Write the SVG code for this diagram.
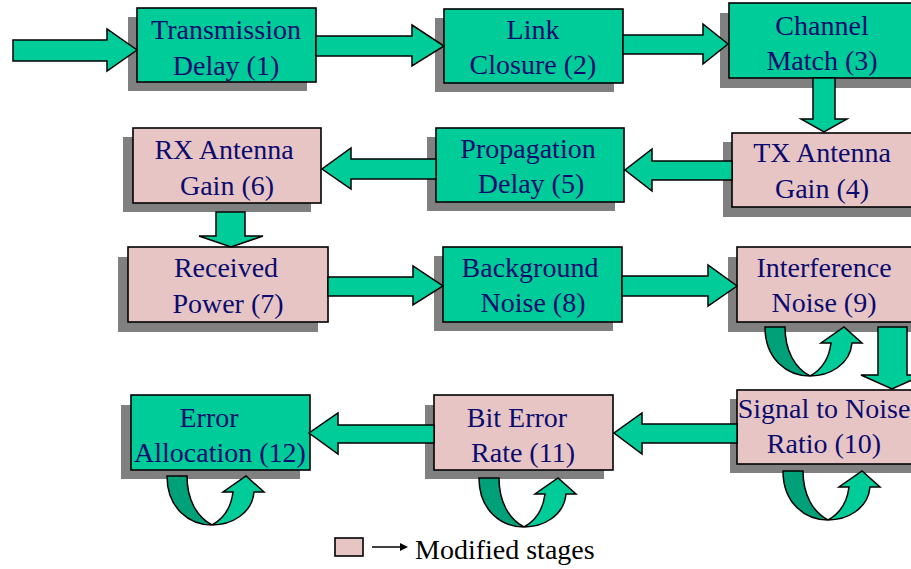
<svg xmlns="http://www.w3.org/2000/svg" xmlns:xlink="http://www.w3.org/1999/xlink" width="911" height="569" viewBox="0 0 911 569">
<style>
.sh{fill:#808080;stroke:none}
.g{fill:#00cc99;stroke:#000;stroke-width:1.6}
.p{fill:#e7c5c5;stroke:#000;stroke-width:1.6}
.t{font-family:'Liberation Serif','Tinos','DejaVu Serif',serif;font-size:28px;fill:#0b0b6e;text-anchor:middle}
.ar{fill:#00cc99;stroke:#000;stroke-width:1.5;stroke-linejoin:miter}
.dk{fill:#00a078;stroke:#000;stroke-width:1.5}
.lt{fill:#00cc99;stroke:#000;stroke-width:1.5}
.lg{font-family:'Liberation Serif','Tinos','DejaVu Serif',serif;font-size:28px;fill:#000}
</style>
<defs>
<g id="loop">
<path class="dk" d="M0,0 L20,0 C20,24 30,41 45,49 C22,49 0,32 0,0 Z"/>
<path class="lt" d="M45,49 C64,49 85,38 87,16 L97,16 L79,0 L56,16 L66,16 C64,32 56,43 45,49 Z"/>
</g>
</defs>
<rect width="911" height="569" fill="#fff"/>
<g id="node1"><rect class="sh" x="128" y="17" width="179" height="74"/><rect class="g" x="137" y="8" width="179" height="74"/><text class="t" x="226" y="39">Transmission</text><text class="t" x="226" y="75">Delay (1)</text></g>
<g id="node2"><rect class="sh" x="435" y="18" width="179" height="74"/><rect class="g" x="444" y="9" width="179" height="74"/><text class="t" x="533" y="39">Link</text><text class="t" x="533" y="74">Closure (2)</text></g>
<g id="node3"><rect class="sh" x="720" y="13" width="192" height="75"/><rect class="g" x="729" y="3" width="184" height="75"/><text class="t" x="822" y="35">Channel</text><text class="t" x="822" y="70">Match (3)</text></g>
<g id="node4"><rect class="sh" x="723" y="142" width="190" height="75"/><rect class="p" x="732" y="133" width="181" height="74"/><text class="t" x="822" y="162">TX Antenna</text><text class="t" x="822" y="198">Gain (4)</text></g>
<g id="node5"><rect class="sh" x="427" y="137" width="188" height="74"/><rect class="g" x="436" y="128" width="188" height="74"/><text class="t" x="528" y="158">Propagation</text><text class="t" x="531" y="193">Delay (5)</text></g>
<g id="node6"><rect class="sh" x="123" y="137" width="188" height="75"/><rect class="p" x="133" y="128" width="188" height="75"/><text class="t" x="224" y="159">RX Antenna</text><text class="t" x="227" y="195">Gain (6)</text></g>
<g id="node7"><rect class="sh" x="118" y="257" width="200" height="75"/><rect class="p" x="128" y="247" width="200" height="75"/><text class="t" x="226" y="277">Received</text><text class="t" x="228" y="313">Power (7)</text></g>
<g id="node8"><rect class="sh" x="434" y="256" width="179" height="75"/><rect class="g" x="443" y="247" width="179" height="75"/><text class="t" x="530" y="277">Background</text><text class="t" x="533" y="312">Noise (8)</text></g>
<g id="node9"><rect class="sh" x="728" y="257" width="185" height="75"/><rect class="p" x="737" y="247" width="176" height="75"/><text class="t" x="824" y="277">Interference</text><text class="t" x="824" y="312">Noise (9)</text></g>
<g id="node10"><rect class="sh" x="730" y="399" width="183" height="74"/><rect class="p" x="737" y="390" width="176" height="74"/><text class="t" x="824" y="418">Signal to Noise</text><text class="t" x="824" y="453">Ratio (10)</text></g>
<g id="node11"><rect class="sh" x="425" y="405" width="179" height="74"/><rect class="p" x="434" y="395" width="179" height="75"/><text class="t" x="517" y="427">Bit Error</text><text class="t" x="523" y="462">Rate (11)</text></g>
<g id="node12"><rect class="sh" x="121" y="405" width="179" height="74"/><rect class="g" x="131" y="395" width="179" height="75"/><text class="t" x="209" y="427">Error</text><text class="t" x="220" y="462">Allocation (12)</text></g>
<g id="connectors">
<polygon class="ar" points="13,40 107,40 107,29 137,50 107,71 107,61 13,61"/>
<polygon class="ar" points="316,36 412,36 412,25 444,46 412,66 412,56 316,56"/>
<polygon class="ar" points="623,35 703,35 703,24 728,44 703,64 703,54 623,54"/>
<polygon class="ar" points="813,78 835,78 835,119 847,119 824,132 801,119 813,119"/>
<polygon class="ar" points="732,161 652,161 652,149 625,170 652,191 652,180 732,180"/>
<polygon class="ar" points="436,159 351,159 351,148 322,169 351,189 351,179 436,179"/>
<polygon class="ar" points="216,212 245,212 245,236 263,236 231,247 199,236 216,236"/>
<polygon class="ar" points="328,277 413,277 413,266 443,286 413,305 413,296 328,296"/>
<polygon class="ar" points="622,276 708,276 708,265 737,286 708,306 708,296 622,296"/>
<polygon class="ar" points="878,327 907,327 907,375 923,375 892,389 861,375 878,375"/>
<polygon class="ar" points="737,424 642,424 642,413 614,433 642,454 642,443 737,443"/>
<polygon class="ar" points="434,425 338,425 338,413 309,433 338,454 338,443 434,443"/>
<use xlink:href="#loop" href="#loop" x="765" y="327"/>
<use xlink:href="#loop" href="#loop" x="783" y="471"/>
<use xlink:href="#loop" href="#loop" x="479" y="478"/>
<use xlink:href="#loop" href="#loop" x="167" y="476"/>
</g>
<g id="legend">
<rect class="p" x="335" y="538" width="28" height="18"/>
<line x1="372" y1="547" x2="401" y2="547" stroke="#000" stroke-width="1.5"/>
<polygon points="400,543 408,547 400,551" fill="#000"/>
<text class="lg" x="415" y="559">Modified stages</text>
</g>
</svg>
